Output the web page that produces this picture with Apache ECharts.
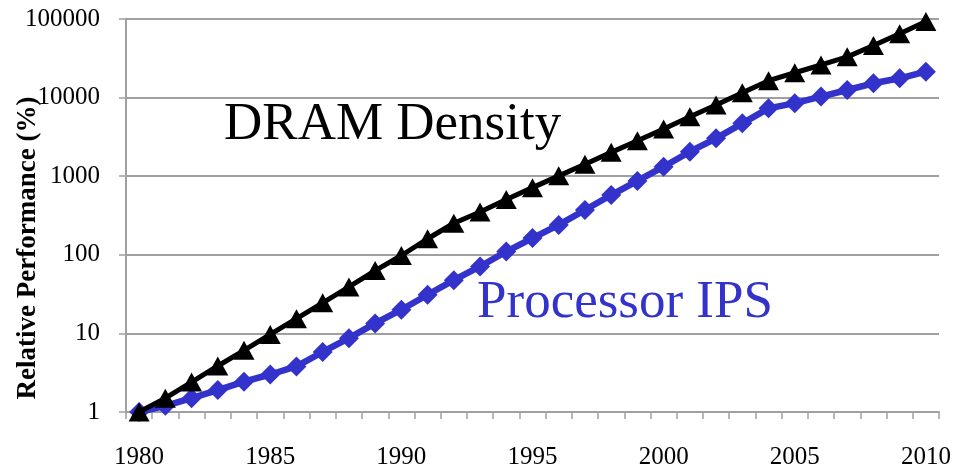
<!DOCTYPE html>
<html>
<head>
<meta charset="utf-8">
<script src="https://cdn.jsdelivr.net/npm/echarts@6/dist/echarts.min.js"></script>
<style>
  html, body { margin: 0; padding: 0; background: #fff; }
  #chart { width: 959px; height: 466px; }
</style>
</head>
<body>
<div id="chart"></div>
<script>
// Years on the category axis
const years = [];
for (let y = 1980; y <= 2010; y++) years.push(String(y));

// DRAM density relative to 1980 (%)
const dramDensity = [
  1, 1.5, 2.4, 3.85, 6.1, 9.7, 15.4, 24.5, 39, 63,
  98, 160, 252, 350, 505, 715, 1010, 1420, 2010, 2820,
  3980, 5700, 8050, 11500, 16400, 20700, 26000, 33000, 46000, 65000,
  93000
];

// Processor instructions per second relative to 1980 (%)
const processorIPS = [
  1, 1.2, 1.5, 1.9, 2.43, 3.0, 3.8, 5.8, 8.7, 13.4,
  20, 31, 47.5, 71, 110, 163, 240, 372, 576, 870,
  1320, 2050, 3030, 4700, 7300, 8500, 10300, 12500, 15200, 17600,
  21400
];

// Log-scale tick values shown on the y axis
const yTicks = [1, 10, 100, 1000, 10000, 100000];

const serif = "'Liberation Serif', 'Times New Roman', serif";
const gray = '#A0A0A0';
const blue = '#3333CC';

const chart = echarts.init(document.getElementById('chart'), null, { renderer: 'canvas' });

chart.setOption({
  animation: false,
  backgroundColor: '#ffffff',
  grid: { left: 126, right: 20, top: 19, bottom: 54, containLabel: false, outerBoundsMode: 'none' },
  xAxis: {
    type: 'category',
    data: years,
    boundaryGap: true,
    axisLine: { show: true, lineStyle: { color: gray, width: 2 } },
    axisTick: { show: true, interval: 0, length: 7, alignWithLabel: false, lineStyle: { color: gray, width: 1.5 } },
    axisLabel: { interval: 4, margin: 33, color: '#000', fontFamily: serif, fontSize: 25 },
    splitLine: { show: false }
  },
  yAxis: {
    type: 'log',
    logBase: 10,
    min: yTicks[0],
    max: yTicks[yTicks.length - 1],
    axisLine: { show: true, lineStyle: { color: gray, width: 2 } },
    axisTick: { show: true, length: 7, lineStyle: { color: gray, width: 1.5 } },
    axisLabel: {
      margin: 26, color: '#000', fontFamily: serif, fontSize: 25,
      formatter: v => String(Math.round(v))
    },
    splitLine: { show: true, lineStyle: { color: gray, width: 2 } }
  },
  series: [
    {
      name: 'Processor IPS',
      type: 'line',
      data: processorIPS,
      symbol: 'diamond',
      symbolSize: 20,
      showAllSymbol: true,
      lineStyle: { color: blue, width: 6.5 },
      itemStyle: { color: blue },
      z: 2
    },
    {
      name: 'DRAM Density',
      type: 'line',
      data: dramDensity,
      symbol: 'triangle',
      symbolSize: [21, 19],
      showAllSymbol: true,
      lineStyle: { color: '#000', width: 5 },
      itemStyle: { color: '#000' },
      z: 3
    }
  ],
  graphic: [
    {
      type: 'text',
      x: 28, y: 248,
      rotation: Math.PI / 2,
      style: {
        text: 'Relative Performance (%)',
        font: 'bold 27px ' + serif,
        fill: '#000',
        align: 'center',
        verticalAlign: 'middle'
      }
    },
    {
      type: 'text',
      x: 224, y: 125,
      style: {
        text: 'DRAM Density',
        font: '53px ' + serif,
        fill: '#000',
        align: 'left',
        verticalAlign: 'middle'
      }
    },
    {
      type: 'text',
      x: 477, y: 303,
      style: {
        text: 'Processor IPS',
        font: '53px ' + serif,
        fill: blue,
        align: 'left',
        verticalAlign: 'middle'
      }
    }
  ]
});
</script>
</body>
</html>
